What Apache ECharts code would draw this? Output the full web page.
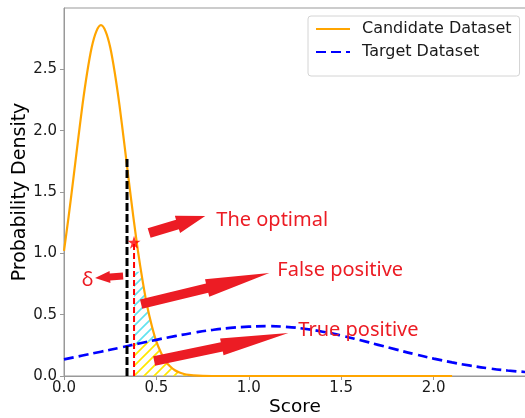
<!DOCTYPE html>
<html><head><meta charset="utf-8">
<script src="https://cdn.jsdelivr.net/npm/echarts@6/dist/echarts.min.js"></script>
<style>html,body{margin:0;padding:0;background:#fff}#c{width:525px;height:418px}</style>
</head><body><div id="c"></div>
<script>
// ---- data ----
const seriesNames = ['Candidate Dataset', 'Target Dataset'];
const orangeX = [0,0.025,0.05,0.075,0.1,0.125,0.15,0.175,0.2,0.225,0.25,0.275,0.3,0.325,0.35,0.375,0.4,0.425,0.45,0.475,0.5,0.525,0.55,0.575,0.6,0.625,0.65,0.675,0.7,0.75,0.8,2.1];
const orangeY = [1.02,1.30,1.60,1.91,2.21,2.47,2.68,2.81,2.86,2.81,2.68,2.47,2.21,1.91,1.60,1.30,1.02,0.78,0.57,0.41,0.28,0.19,0.12,0.077,0.047,0.028,0.016,0.009,0.005,0.001,0,0];
const blueX = [0,0.1,0.2,0.3,0.4,0.5,0.6,0.7,0.8,0.9,1.0,1.1,1.2,1.3,1.4,1.5,1.6,1.7,1.8,1.9,2.0,2.1,2.2,2.3,2.4,2.5];
const blueY = [0.135,0.167,0.198,0.23,0.263,0.295,0.325,0.352,0.375,0.392,0.402,0.406,0.401,0.385,0.361,0.33,0.293,0.254,0.215,0.177,0.142,0.111,0.084,0.062,0.045,0.032];
const xTicks = [0, 0.5, 1.0, 1.5, 2.0];
const yTicks = [0, 0.5, 1.0, 1.5, 2.0, 2.5];
const deltaLineX = 0.341, deltaLineTop = 1.79;      // black dashed line
const optimalX = 0.379, optimalY = 1.09;            // star + red dashed line
const fpHatchTop = 0.85;                            // top of cyan hatch
const annotationTexts = ['The optimal', 'False positive', 'True positive', 'δ'];
const annotationAt = [[0.824, 1.271], [1.1545, 0.864], [1.268, 0.375], [0.1274, 0.782]];
const arrowFromTo = [
  [0.4607, 1.1654, 0.7642, 1.3040],
  [0.4173, 0.5868, 1.1111, 0.8394],
  [0.4878, 0.1222, 1.2141, 0.3504],
  [0.3198, 0.8150, 0.1680, 0.7987]
];
const arrowSizes = [[10, 18, 29], [9.5, 18, 64], [9.5, 17, 68], [7, 12, 15]]; // shaft, head width, head length (px)

// ---- helpers ----
function zip(xs, ys) { return xs.map((x, i) => [x, ys[i]]); }
function interp(xs, ys, x) {
  if (x <= xs[0]) return ys[0];
  for (let i = 1; i < xs.length; i++) {
    if (x <= xs[i]) { const t = (x - xs[i-1]) / (xs[i] - xs[i-1]); return ys[i-1] + t * (ys[i] - ys[i-1]); }
  }
  return ys[ys.length - 1];
}
function makeHatch(color) {
  const s = 10, c = document.createElement('canvas'); c.width = s; c.height = s;
  const g = c.getContext('2d'); g.strokeStyle = color; g.lineWidth = 1.7;
  g.beginPath();
  g.moveTo(-2, s + 2); g.lineTo(s + 2, -2);
  g.moveTo(-2, 2); g.lineTo(2, -2);
  g.moveTo(s - 2, s + 2); g.lineTo(s + 2, s - 2);
  g.stroke();
  return { image: c, repeat: 'repeat' };
}
// region polygons derived from the two curves
function regionPolys() {
  const xs = []; for (let x = optimalX; x <= 0.8 + 1e-9; x += 0.004) xs.push(x);
  const cyanUp = [], cyanLo = [], yelUp = [];
  xs.forEach(x => {
    const o = interp(orangeX, orangeY, x), b = interp(blueX, blueY, x);
    const top = Math.min(o, fpHatchTop);
    if (top > b) { cyanUp.push([x, top]); cyanLo.push([x, b]); }
    yelUp.push([x, Math.min(o, b)]);
  });
  const cyan = cyanUp.concat(cyanLo.reverse());
  const yellow = [[optimalX, 0]].concat(yelUp, [[0.8, 0]]);
  return { cyan, yellow };
}
const polys = regionPolys();
const hatchCyan = makeHatch('#62e3f0');
const hatchYellow = makeHatch('#ffe600');
const RED = '#ec1c24';
const FONT = 'DejaVu Sans';

const chart = echarts.init(document.getElementById('c'), null, { renderer: 'canvas' });
chart.setOption({
  animation: false,
  backgroundColor: '#fff',
  grid: { left: 64, right: -1, top: 8, bottom: 42, containLabel: false, outerBoundsMode: 'none',
          show: true, borderColor: '#999', borderWidth: 1 },
  legend: {
    data: seriesNames, orient: 'vertical', left: 308, top: 16,
    padding: [5, 8, 16, 7], itemGap: 7, itemWidth: 34, itemHeight: 16,
    itemStyle: { opacity: 0 },
    borderColor: '#d4d4d4', borderWidth: 1, borderRadius: 3, backgroundColor: '#fff',
    textStyle: { fontFamily: FONT, fontSize: 16, color: '#1a1a1a', padding: [0, 0, 0, 7] }
  },
  xAxis: {
    type: 'value', min: 0, max: 2.5,
    name: 'Score', nameLocation: 'middle', nameGap: 22, nameMoveOverlap: false,
    nameTextStyle: { fontFamily: FONT, fontSize: 18.5, color: '#000' },
    axisLine: { show: true, onZero: false, lineStyle: { color: '#999', width: 1 } },
    axisTick: { show: true, length: 4, customValues: xTicks, lineStyle: { color: '#999' } },
    axisLabel: { customValues: xTicks, formatter: v => v.toFixed(1), fontFamily: FONT, fontSize: 15, color: '#1a1a1a', margin: 5 },
    splitLine: { show: false }
  },
  yAxis: {
    type: 'value', min: 0, max: 3.0,
    name: 'Probability Density', nameLocation: 'middle', nameGap: 34, nameMoveOverlap: false,
    nameTextStyle: { fontFamily: FONT, fontSize: 19, color: '#000' },
    axisLine: { show: true, onZero: false, lineStyle: { color: '#999', width: 1 } },
    axisTick: { show: true, length: 4, customValues: yTicks, lineStyle: { color: '#999' } },
    axisLabel: { customValues: yTicks, formatter: v => v.toFixed(1), fontFamily: FONT, fontSize: 15, color: '#1a1a1a', margin: 7 },
    splitLine: { show: false }
  },
  series: [
    {
      type: 'custom', name: 'hatch', z: 1, silent: true, data: [[0, 0]],
      renderItem: (params, api) => ({
        type: 'group', children: [
          { type: 'polygon', shape: { points: polys.yellow.map(p => api.coord(p)) }, style: { fill: hatchYellow, stroke: null } },
          { type: 'polygon', shape: { points: polys.cyan.map(p => api.coord(p)) }, style: { fill: hatchCyan, stroke: null } }
        ]
      })
    },
    {
      type: 'line', name: seriesNames[0], z: 3, data: zip(orangeX, orangeY), smooth: 0.3,
      symbol: 'none', color: '#ffa500', lineStyle: { color: '#ffa500', width: 2.2 }
    },
    {
      type: 'line', name: seriesNames[1], z: 4, data: zip(blueX, blueY), smooth: true,
      symbol: 'none', color: '#0000ff', lineStyle: { color: '#0000ff', width: 2.7, type: [10, 5] }
    },
    {
      type: 'line', name: 'delta', z: 5, data: [[deltaLineX, 0], [deltaLineX, deltaLineTop]],
      symbol: 'none', lineStyle: { color: '#000', width: 3, type: [8, 3] }
    },
    {
      type: 'line', name: 'threshold', z: 5, data: [[optimalX, 0], [optimalX, optimalY]],
      symbol: 'none', lineStyle: { color: '#ff0000', width: 2, type: [6, 3] }
    },
    {
      type: 'scatter', name: 'optimal', z: 6, data: [[optimalX, optimalY]],
      symbol: 'path://M50,0 L61.8,36.2 L100,36.2 L69.1,58.8 L80.9,95.1 L50,72.7 L19.1,95.1 L30.9,58.8 L0,36.2 L38.2,36.2 Z',
      symbolSize: 13, itemStyle: { color: '#ff0000' }
    },
    {
      type: 'custom', name: 'arrows', z: 7, silent: true,
      data: arrowFromTo.map((a, i) => a.concat(arrowSizes[i])),
      renderItem: (params, api) => {
        const p1 = api.coord([api.value(0), api.value(1)]);
        const p2 = api.coord([api.value(2), api.value(3)]);
        const sw = api.value(4), hw = api.value(5), hl = api.value(6);
        const dx = p2[0] - p1[0], dy = p2[1] - p1[1], L = Math.hypot(dx, dy);
        const ux = dx / L, uy = dy / L, nx = -uy, ny = ux;
        const bx = p2[0] - ux * hl, by = p2[1] - uy * hl;
        const pts = [
          [p1[0] + nx * sw / 2, p1[1] + ny * sw / 2],
          [bx + nx * sw / 2, by + ny * sw / 2],
          [bx + nx * hw / 2, by + ny * hw / 2],
          [p2[0], p2[1]],
          [bx - nx * hw / 2, by - ny * hw / 2],
          [bx - nx * sw / 2, by - ny * sw / 2],
          [p1[0] - nx * sw / 2, p1[1] - ny * sw / 2]
        ];
        return { type: 'polygon', shape: { points: pts }, style: { fill: RED, stroke: null } };
      }
    },
    {
      type: 'custom', name: 'labels', z: 8, silent: true,
      data: annotationAt.map((p, i) => [p[0], p[1], i]),
      renderItem: (params, api) => {
        const i = api.value(2);
        const pt = api.coord([api.value(0), api.value(1)]);
        return {
          type: 'text', x: pt[0], y: pt[1],
          style: {
            text: annotationTexts[i], fill: RED, fontFamily: 'Noto Sans', fontSize: 20,
            align: i === 3 ? 'center' : 'left', verticalAlign: 'middle'
          }
        };
      }
    }
  ]
});
</script>
</body></html>
